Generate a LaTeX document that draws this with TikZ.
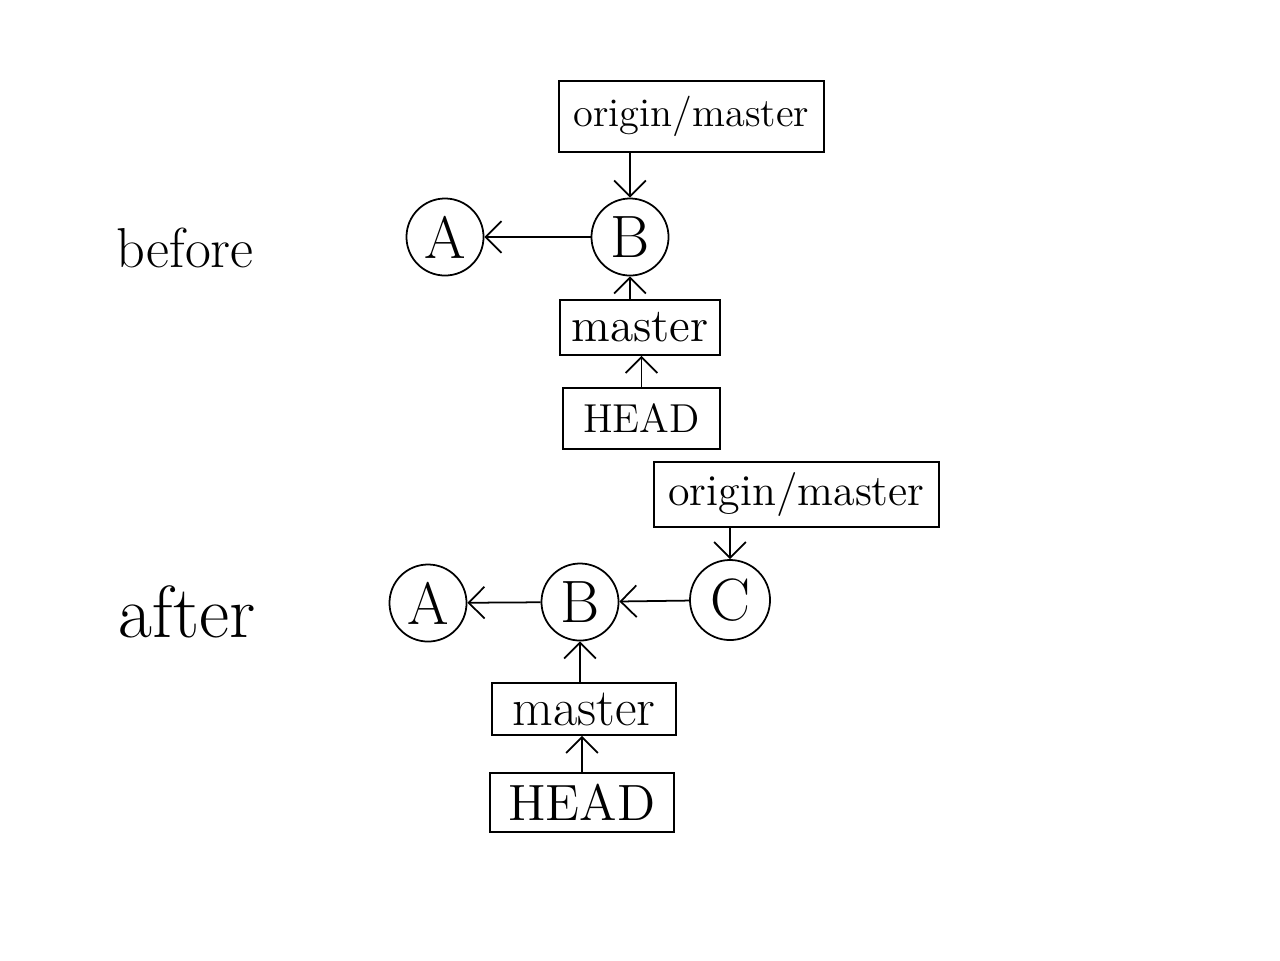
\documentclass[tikz,border=0pt]{standalone}
\usepackage{tikz}
\usetikzlibrary{arrows.meta}

\tikzset{
  commit/.style={draw, circle, inner sep=0pt, minimum size=0.77cm, line width=0.5pt,
    font=\fontsize{17}{19}\selectfont},
  refbox/.style={draw, rectangle, inner sep=0pt, line width=0.5pt},
  refarrow/.style={-{Straight Barb[length=4.5pt,width=9pt]}, line width=0.5pt},
  stage/.style={inner sep=0pt}
}

\begin{document}
\begin{tikzpicture}[x=0.01cm, y=-0.01cm]
  \useasboundingbox (0,0) rectangle (1280,960);
  % labels
  \node[stage, font=\fontsize{16}{18}\selectfont] (before) at (185,248) {before};
  \node[stage, font=\fontsize{21}{23}\selectfont] (after) at (187,612) {after};
  % before
  \node[commit] (a1) at (445,237) {A};
  \node[commit] (b1) at (630,237) {B};
  \node[refbox, minimum width=2.65cm, minimum height=0.71cm,
    font=\fontsize{11.5}{13}\selectfont] (om1) at (691.5,116.5) {origin/master};
  \node[refbox, minimum width=1.6cm, minimum height=0.55cm,
    font=\fontsize{13.5}{15}\selectfont] (m1) at (640,327.5) {master};
  \node[refbox, minimum width=1.57cm, minimum height=0.61cm,
    font=\fontsize{11.5}{13}\selectfont] (h1) at (641.5,418.5) {HEAD};
  \draw[refarrow] (b1) -- (a1);
  \draw[refarrow] (b1.north |- om1.south) -- (b1.north);
  \draw[refarrow] (b1.south |- m1.north) -- (b1.south);
  \draw[refarrow] (h1.north) -- (h1.north |- m1.south);
  % after
  \node[commit] (a2) at (428,603) {A};
  \node[commit] (b2) at (580,602) {B};
  \node[commit, minimum size=0.8cm] (c2) at (730,600) {C};
  \node[refbox, minimum width=2.85cm, minimum height=0.65cm,
    font=\fontsize{12.5}{14}\selectfont] (om2) at (796.5,494.5) {origin/master};
  \node[refbox, minimum width=1.84cm, minimum height=0.52cm,
    font=\fontsize{15}{17}\selectfont] (m2) at (584,709) {master};
  \node[refbox, minimum width=1.84cm, minimum height=0.59cm,
    font=\fontsize{14.5}{16}\selectfont] (h2) at (582,802.5) {HEAD};
  \draw[refarrow] (c2) -- (b2);
  \draw[refarrow] (b2) -- (a2);
  \draw[refarrow] (c2.north |- om2.south) -- (c2.north);
  \draw[refarrow] (b2.south |- m2.north) -- (b2.south);
  \draw[refarrow] (h2.north) -- (h2.north |- m2.south);
\end{tikzpicture}
\end{document}
